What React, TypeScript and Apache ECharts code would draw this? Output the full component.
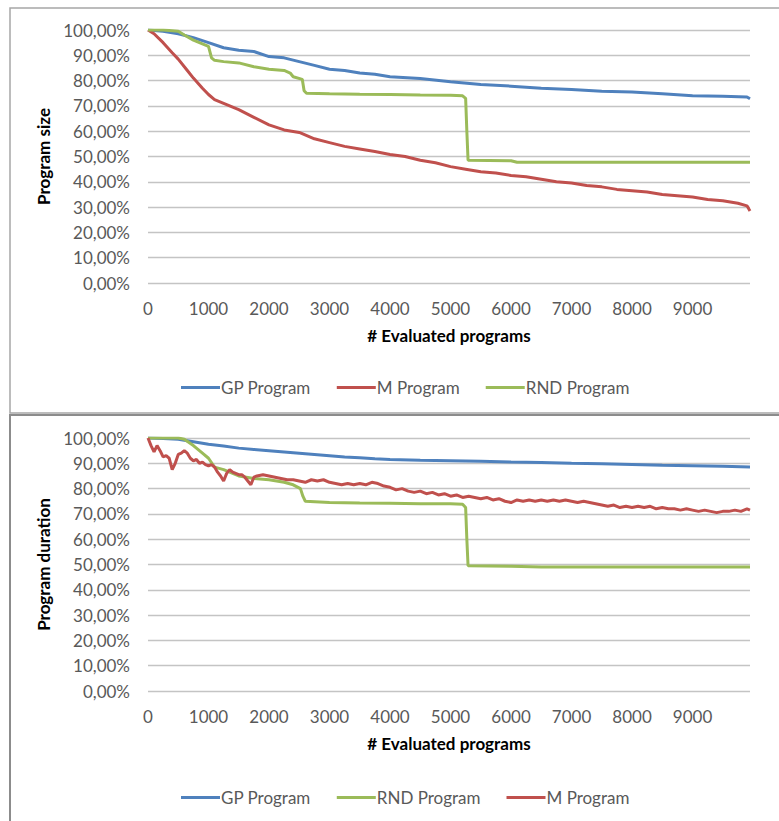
import React, { useEffect, useRef } from "react";
import * as echarts from "echarts";

// ---------- Top chart: Program size ----------
const sizeGpX = [0, 250, 500, 750, 1000, 1250, 1500, 1750, 2000, 2250, 2500, 2750, 3000, 3250, 3500, 3750, 4000, 4500, 5000, 5500, 6000, 6500, 7000, 7500, 8000, 8500, 9000, 9500, 9900, 9950];
const sizeGpY = [100, 99.5, 98.5, 97, 95, 93, 92, 91.5, 89.5, 89, 87.5, 86, 84.5, 84, 83, 82.5, 81.5, 80.8, 79.5, 78.5, 77.8, 77, 76.5, 75.8, 75.5, 74.8, 74, 73.8, 73.5, 72.8];

const sizeMX = [0, 100, 250, 400, 500, 650, 750, 900, 1000, 1100, 1250, 1500, 1750, 2000, 2250, 2500, 2750, 3000, 3250, 3500, 3750, 4000, 4250, 4500, 4750, 5000, 5250, 5500, 5750, 6000, 6250, 6500, 6750, 7000, 7250, 7500, 7750, 8000, 8250, 8500, 8750, 9000, 9250, 9500, 9750, 9900, 9950];
const sizeMY = [100, 98.5, 95, 91, 88.5, 84, 81, 77, 74.5, 72.5, 71, 68.5, 65.5, 62.5, 60.5, 59.5, 57, 55.5, 54, 53, 52, 50.8, 50, 48.5, 47.5, 46, 45, 44, 43.5, 42.5, 42, 41, 40, 39.5, 38.5, 38, 37, 36.5, 36, 35, 34.5, 34, 33, 32.5, 31.5, 30.5, 28.5];

const sizeRndX = [0, 250, 500, 600, 750, 900, 1000, 1050, 1100, 1250, 1500, 1750, 2000, 2250, 2350, 2400, 2550, 2580, 2620, 3000, 3500, 4000, 4500, 5000, 5200, 5250, 5270, 5290, 6000, 6100, 9950];
const sizeRndY = [100, 100, 99.5, 98, 96, 94.5, 93.5, 89, 88, 87.5, 87, 85.5, 84.5, 84, 83, 81.5, 80.5, 76, 75, 74.8, 74.6, 74.5, 74.3, 74.2, 74, 73, 60, 48.5, 48.3, 47.7, 47.7];

// ---------- Bottom chart: Program duration ----------
const durGpX = [0, 250, 500, 750, 1000, 1250, 1500, 1750, 2000, 2250, 2500, 2750, 3000, 3250, 3500, 3750, 4000, 4500, 5000, 5500, 6000, 6500, 7000, 7500, 8000, 8500, 9000, 9500, 9950];
const durGpY = [100, 99.8, 99.5, 98.5, 97.5, 96.8, 96, 95.5, 95, 94.5, 94, 93.5, 93, 92.5, 92.2, 91.8, 91.5, 91.2, 91, 90.8, 90.5, 90.3, 90, 89.8, 89.5, 89.2, 89, 88.8, 88.5];

const durRndX = [0, 500, 600, 750, 900, 1000, 1100, 1250, 1500, 1750, 2000, 2250, 2400, 2520, 2560, 2600, 3000, 3500, 4000, 4500, 5000, 5200, 5250, 5270, 5290, 6000, 6500, 9950];
const durRndY = [100, 100, 99.5, 97, 94, 92, 88.5, 87.5, 85, 84, 83.5, 82.5, 81.5, 80, 77, 75, 74.5, 74.3, 74.2, 74, 74, 73.8, 72.5, 60, 49.5, 49.3, 49, 49];

const durMX = [0, 50, 100, 150, 200, 250, 300, 350, 400, 450, 500, 550, 600, 650, 700, 750, 800, 850, 900, 950, 1000, 1050, 1100, 1150, 1200, 1250, 1300, 1350, 1400, 1450, 1500, 1550, 1600, 1650, 1700, 1750, 1800, 1900, 2000, 2100, 2200, 2300, 2400, 2500, 2600, 2700, 2800, 2900, 3000, 3100, 3200, 3300, 3400, 3500, 3600, 3700, 3800, 3900, 4000, 4100, 4200, 4300, 4400, 4500, 4600, 4700, 4800, 4900, 5000, 5100, 5200, 5300, 5400, 5500, 5600, 5700, 5800, 5900, 6000, 6100, 6200, 6300, 6400, 6500, 6600, 6700, 6800, 6900, 7000, 7100, 7200, 7300, 7400, 7500, 7600, 7700, 7800, 7900, 8000, 8100, 8200, 8300, 8400, 8500, 8600, 8700, 8800, 8900, 9000, 9100, 9200, 9300, 9400, 9500, 9600, 9700, 9800, 9900, 9950];
const durMY = [100, 97, 94.5, 97, 95, 92.5, 93, 92, 87.5, 90, 93.5, 94, 95, 94, 92, 91, 91.5, 90, 90.5, 89.5, 89, 89.5, 88.5, 86.5, 85, 83, 86, 87.5, 86.5, 86, 85.5, 85.5, 84.5, 83, 81.5, 84.5, 85, 85.5, 85, 84.5, 84, 83.5, 83.5, 83, 82.5, 83.5, 83, 83.5, 82.5, 82, 81.5, 82, 81.5, 82, 81.5, 82.5, 82, 81, 80.5, 79.5, 80, 79, 78.5, 79, 78, 78.5, 77.5, 78, 77, 77.5, 76.5, 77, 76.5, 76, 76.5, 75.5, 76, 75, 74.5, 75.5, 75, 75.5, 75, 75.5, 75, 75.5, 75, 75.5, 75, 74.5, 75, 74.5, 74, 73.5, 73, 73.5, 72.5, 73, 72.5, 73, 72.5, 73, 72, 72.5, 72, 72, 71.5, 72, 71.5, 71, 71.5, 71, 70.5, 71, 71, 71.5, 71, 72, 71.5];

const xTickInterval = 1000;
const xMax = 9950;
const yMin = 0;
const yMax = 100;
const yInterval = 10;

const COLORS: Record<string, string> = {
  "GP Program": "#4F81BD",
  "M Program": "#C0504D",
  "RND Program": "#9BBB59",
};

const FONT = "Lato, 'Open Sans', sans-serif";
const TEXT = "#595959";
const FS = 17;

function pairs(xs: number[], ys: number[]) {
  return xs.map((x, i) => [x, ys[i]]);
}

function mkSeries(name: string, idx: number, xs: number[], ys: number[]) {
  return {
    name,
    type: "line",
    xAxisIndex: idx,
    yAxisIndex: idx,
    data: pairs(xs, ys),
    symbol: "none",
    showSymbol: false,
    lineStyle: { width: 3, color: COLORS[name] },
    itemStyle: { color: COLORS[name] },
    emphasis: { disabled: true },
  };
}

function mkX(idx: number) {
  return {
    type: "value",
    gridIndex: idx,
    min: 0,
    max: xMax,
    interval: xTickInterval,
    name: "# Evaluated programs",
    nameLocation: "middle",
    nameGap: 44,
    nameTextStyle: { fontFamily: FONT, fontSize: FS, fontWeight: "bold", color: "#000" },
    axisLine: { show: false },
    axisTick: { show: false },
    splitLine: { show: false },
    axisLabel: {
      fontFamily: FONT,
      fontSize: FS,
      color: TEXT,
      margin: 17,
      showMaxLabel: false,
      formatter: (v: number) => String(v),
    },
  };
}

function mkY(idx: number, name: string) {
  return {
    type: "value",
    gridIndex: idx,
    min: yMin,
    max: yMax,
    interval: yInterval,
    name,
    nameLocation: "middle",
    nameGap: 89,
    nameRotate: 90,
    nameTextStyle: { fontFamily: FONT, fontSize: FS, fontWeight: "bold", color: "#000" },
    axisLine: { show: false },
    axisTick: { show: false },
    splitLine: { show: true, lineStyle: { color: "#c4c4c4", width: 1.3 } },
    axisLabel: {
      fontFamily: FONT,
      fontSize: FS,
      color: TEXT,
      margin: 18,
      formatter: (v: number) => v.toFixed(2).replace(".", ",") + "%",
    },
  };
}

function mkLegend(top: number, data: string[]) {
  return {
    top,
    left: 176,
    orient: "horizontal",
    icon: "rect",
    itemWidth: 39,
    itemHeight: 3,
    itemGap: 26,
    selectedMode: false,
    data,
    textStyle: { fontFamily: FONT, fontSize: FS, color: TEXT, padding: [0, 0, 0, -4] },
  };
}

export default function App() {
  const ref = useRef<HTMLDivElement>(null);
  useEffect(() => {
    if (!ref.current) return;
    const chart = echarts.init(ref.current, null, { renderer: "svg" });
    const option: any = {
      animation: false,
      backgroundColor: "#ffffff",
      grid: [
        { left: 148, top: 30, width: 602, height: 253 },
        { left: 148, top: 438, width: 602, height: 253 },
      ],
      xAxis: [mkX(0), mkX(1)],
      yAxis: [mkY(0, "Program size"), mkY(1, "Program duration")],
      legend: [
        mkLegend(374, ["GP Program", "M Program", "RND Program"]),
        mkLegend(784, ["GP Program", "RND Program", "M Program"]),
      ],
      series: [
        mkSeries("GP Program", 0, sizeGpX, sizeGpY),
        mkSeries("M Program", 0, sizeMX, sizeMY),
        mkSeries("RND Program", 0, sizeRndX, sizeRndY),
        mkSeries("GP Program", 1, durGpX, durGpY),
        mkSeries("RND Program", 1, durRndX, durRndY),
        mkSeries("M Program", 1, durMX, durMY),
      ],
      graphic: [
        {
          type: "rect",
          shape: { x: 10, y: 8, width: 820, height: 405 },
          style: { fill: "none", stroke: "#a6a6a6", lineWidth: 1.5 },
          silent: true,
        },
        {
          type: "rect",
          shape: { x: 10, y: 415, width: 820, height: 430 },
          style: { fill: "none", stroke: "#8c8c8c", lineWidth: 2 },
          silent: true,
        },
      ],
    };
    chart.setOption(option);
    return () => chart.dispose();
  }, []);
  return (
    <div
      ref={ref}
      style={{ position: "absolute", left: 0, top: 0, width: 779, height: 821 }}
    />
  );
}
